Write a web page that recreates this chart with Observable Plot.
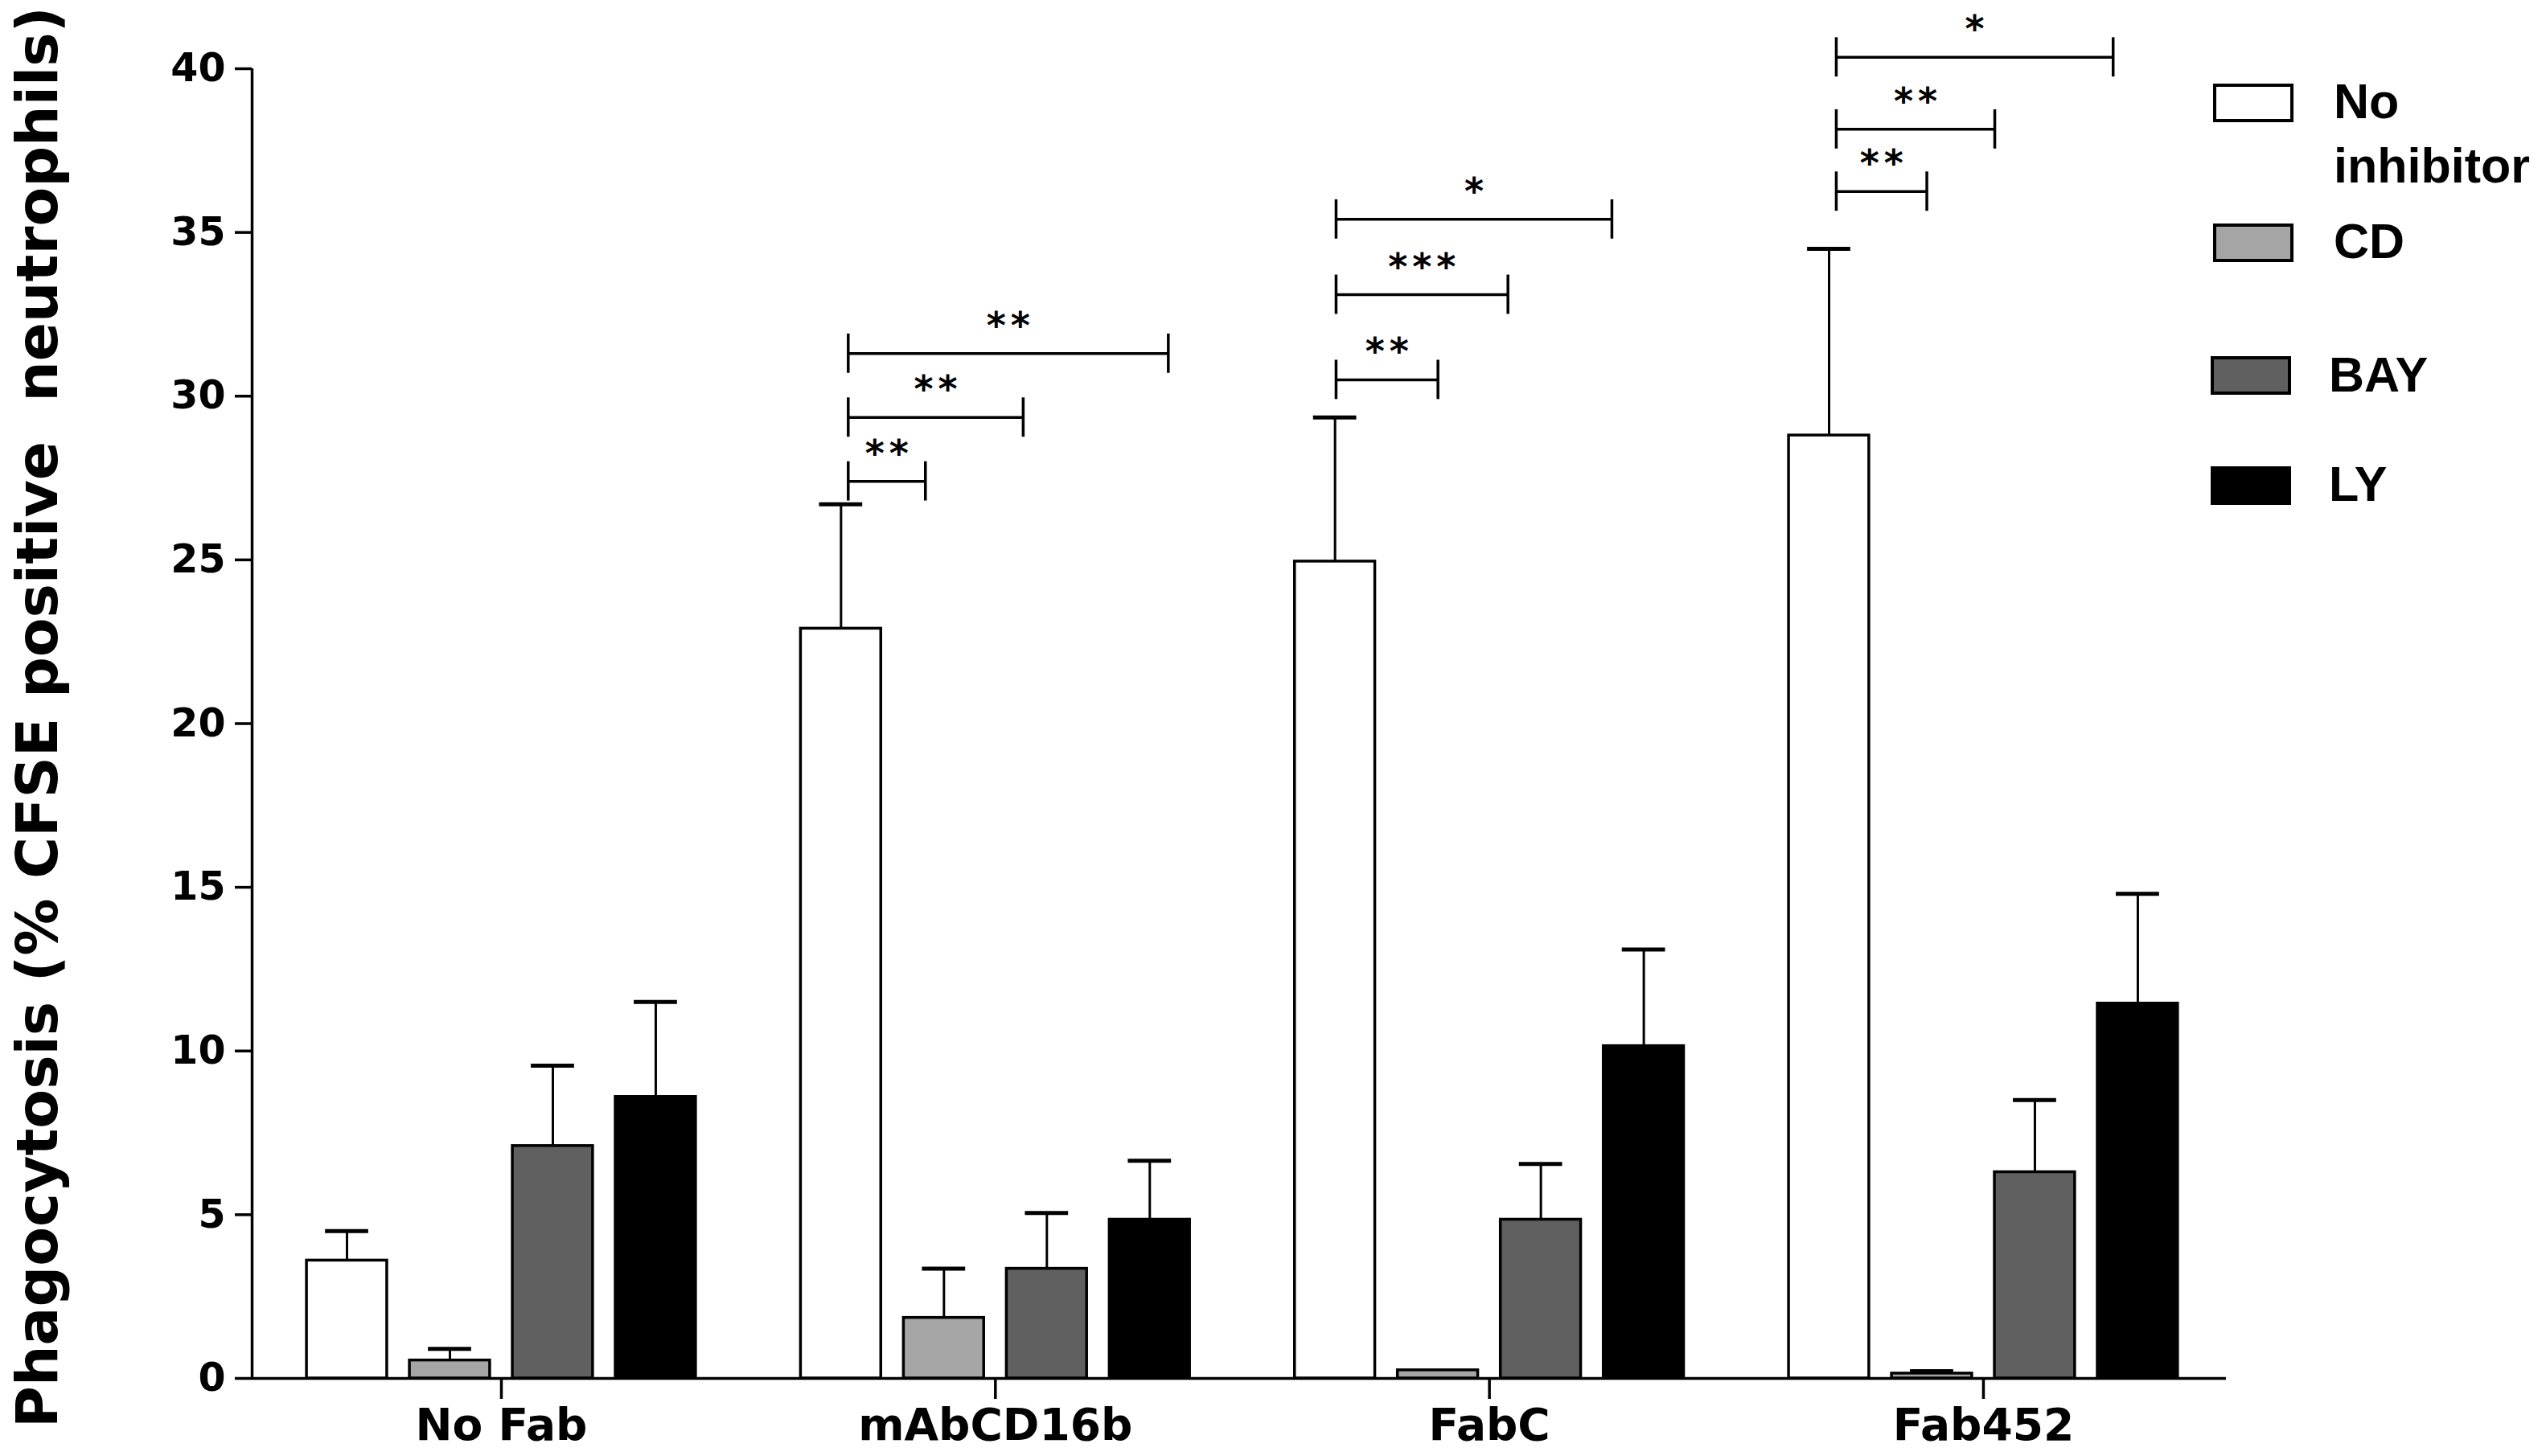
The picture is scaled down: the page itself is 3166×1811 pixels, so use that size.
<!DOCTYPE html>
<html>
<head>
<meta charset="utf-8">
<script src="https://cdn.jsdelivr.net/npm/d3@7"></script>
<script src="https://cdn.jsdelivr.net/npm/@observablehq/plot@0.6"></script>
<style>
  html, body { margin: 0; padding: 0; background: #fff; }
  #wrap { position: relative; width: 3166px; height: 1811px; overflow: hidden; }
  #wrap svg { white-space: pre; }
  #legend { position: absolute; left: 0; top: 0; pointer-events: none; }
</style>
</head>
<body>
<div id="wrap"></div>
<script>
// ---------- data ----------
const categories = ["No Fab", "mAbCD16b", "FabC", "Fab452"];
const series = ["No inhibitor", "CD", "BAY", "LY"];
const fills = ["#ffffff", "#a5a5a5", "#606060", "#000000"];

// means (% CFSE positive neutrophils), one array per series, order = categories
const noInhibitor = [3.6, 22.9, 24.95, 28.8];
const cd = [0.55, 1.85, 0.25, 0.15];
const bay = [7.1, 3.35, 4.85, 6.3];
const ly = [8.6, 4.85, 10.15, 11.45];

// upper error (SEM)
const noInhibitorErr = [0.9, 3.8, 4.4, 5.7];
const cdErr = [0.35, 1.5, 0, 0.07];
const bayErr = [2.45, 1.7, 1.7, 2.2];
const lyErr = [2.9, 1.8, 2.95, 3.35];

const yTicks = [0, 5, 10, 15, 20, 25, 30, 35, 40];
const yTitle = "Phagocytosis (% CFSE positive  neutrophils)";

// significance brackets (group, start/end offset in bar slots from the "No inhibitor" bar, level, label)
const sigGroup = [1, 1, 1, 2, 2, 2, 3, 3, 3];
const sigStart = [0.07, 0.07, 0.07, 0.01, 0.01, 0.01, 0.07, 0.07, 0.07];
const sigEnd = [0.82, 1.77, 3.18, 1.0, 1.68, 2.69, 0.95, 1.61, 2.76];
const sigLevel = [27.4, 29.35, 31.3, 30.5, 33.1, 35.4, 36.25, 38.15, 40.35];
const sigLabel = ["**", "**", "**", "**", "***", "*", "**", "**", "*"];

// ---------- layout ----------
const groupStep = 4.8;      // in bar slots
const barHalf = 0.39;
const capHalf = 0.21;
const tickHalf = 0.6;       // bracket end tick half height (y units)
const means = [noInhibitor, cd, bay, ly];
const errs = [noInhibitorErr, cdErr, bayErr, lyErr];

const rows = [];
categories.forEach((c, gi) => series.forEach((s, si) => rows.push({
  category: c, series: s, pos: gi * groupStep + si,
  value: means[si][gi], err: errs[si][gi], fill: fills[si]
})));
const errRows = rows.filter(d => d.err > 0);

const sig = sigLabel.map((label, i) => ({
  x1: sigGroup[i] * groupStep + sigStart[i],
  x2: sigGroup[i] * groupStep + sigEnd[i],
  level: sigLevel[i], label
}));
const sigEnds = sig.flatMap(d => [{x: d.x1, level: d.level}, {x: d.x2, level: d.level}]);

const groupCenters = categories.map((c, gi) => gi * groupStep + 1.5);
const xMin = -0.922, xMax = 18.26;
const axisFont = "DejaVu Sans";

const plot = Plot.plot({
  width: 3166,
  height: 1811,
  marginLeft: 313,
  marginRight: 398,
  marginTop: 85,
  marginBottom: 97,
  style: {fontFamily: axisFont, fontWeight: "bold", color: "#000", background: "#fff", overflow: "visible"},
  x: {type: "linear", domain: [xMin, xMax]},
  y: {domain: [0, 40]},
  marks: [
    Plot.rect(rows, {
      x1: d => d.pos - barHalf, x2: d => d.pos + barHalf,
      y1: 0, y2: "value",
      fill: "fill", stroke: "#000", strokeWidth: 3.5
    }),
    Plot.ruleX(errRows, {x: "pos", y1: "value", y2: d => d.value + d.err, stroke: "#000", strokeWidth: 3}),
    Plot.ruleY(errRows, {y: d => d.value + d.err, x1: d => d.pos - capHalf, x2: d => d.pos + capHalf, stroke: "#000", strokeWidth: 5}),
    // brackets
    Plot.ruleY(sig, {y: "level", x1: "x1", x2: "x2", stroke: "#000", strokeWidth: 3.5}),
    Plot.ruleX(sigEnds, {x: "x", y1: d => d.level - tickHalf, y2: d => d.level + tickHalf, stroke: "#000", strokeWidth: 3.5}),
    Plot.text(sig, {
      x: d => (d.x1 + d.x2) / 2, y: "level", text: "label",
      lineAnchor: "bottom", dy: -19, fontSize: 46, fontFamily: axisFont, fontWeight: "bold", fill: "#000"
    }),
    // axes
    Plot.ruleX([xMin], {stroke: "#000", strokeWidth: 3.5}),
    Plot.ruleY([0], {stroke: "#000", strokeWidth: 3.5}),
    Plot.axisY({ticks: yTicks, tickSize: 21, tickPadding: 12, fontSize: 49, label: null, strokeWidth: 3.5}),
    Plot.axisX({
      ticks: groupCenters,
      tickFormat: d => categories[Math.round((d - 1.5) / groupStep)],
      tickSize: 26, tickPadding: 11, fontSize: 55, label: null, strokeWidth: 3.5
    }),
    Plot.text([yTitle], {
      frameAnchor: "left", rotate: -90, dx: -243, dy: -8,
      lineAnchor: "bottom", textAnchor: "middle",
      fontSize: 71, fontFamily: axisFont, fontWeight: "bold", fill: "#000"
    })
  ]
});

// letter spacing on the significance stars
plot.querySelectorAll("text").forEach(t => {
  if (/^\*+$/.test(t.textContent)) { t.style.letterSpacing = "6px"; t.setAttribute("dx", "3"); }
});

const wrap = document.getElementById("wrap");
wrap.appendChild(plot);

// ---------- legend ----------
const legendBoxes = [
  {x: 2754, y: 106}, {x: 2754, y: 280}, {x: 2751, y: 445}, {x: 2751, y: 582}
];
const legendLines = [
  {x: 2902, baselines: [147, 227], lines: ["No", "inhibitor"]},
  {x: 2902, baselines: [321], lines: ["CD"]},
  {x: 2896, baselines: [487], lines: ["BAY"]},
  {x: 2896, baselines: [623], lines: ["LY"]}
];
const leg = d3.select(wrap).append("svg")
  .attr("id", "legend").attr("width", 3166).attr("height", 1811);
series.forEach((s, i) => {
  const b = legendBoxes[i];
  leg.append("rect")
    .attr("x", b.x).attr("y", b.y).attr("width", 96).attr("height", 44)
    .attr("fill", fills[i]).attr("stroke", "#000").attr("stroke-width", 4);
  const L = legendLines[i];
  L.lines.forEach((line, j) => {
    leg.append("text")
      .attr("x", L.x).attr("y", L.baselines[j])
      .attr("font-family", "Liberation Sans, Arial, sans-serif")
      .attr("font-weight", "bold").attr("font-size", 61)
      .attr("fill", "#000").text(line);
  });
});
</script>
</body>
</html>
